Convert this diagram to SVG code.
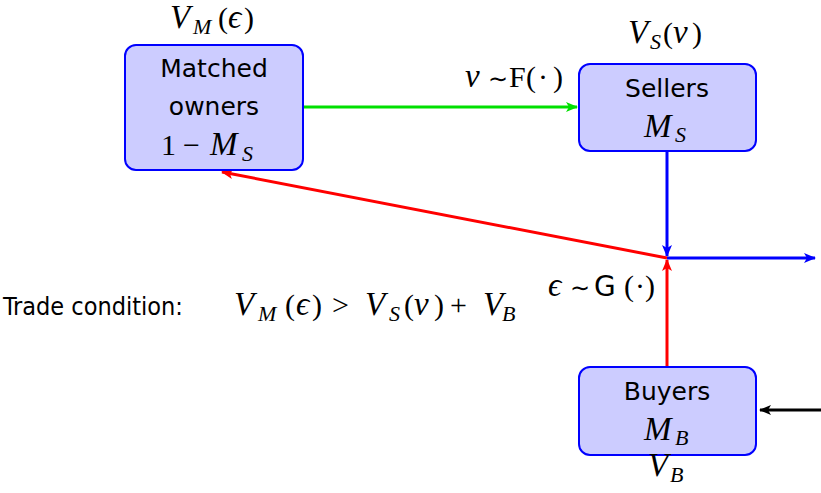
<svg xmlns="http://www.w3.org/2000/svg" width="821" height="493" viewBox="0 0 821 493">
<style>
.box{fill:#ccccff;stroke:#0000ff;stroke-width:2}
.t{font-family:"DejaVu Sans",sans-serif;font-size:25px;fill:#000}
.tc{font-family:"DejaVu Sans Condensed","DejaVu Sans",sans-serif;font-stretch:condensed;font-size:25px;fill:#000}
.m{font-family:"Liberation Serif",serif;font-style:italic;font-size:33px;fill:#000}
.r{font-family:"Liberation Serif",serif;font-size:30px;fill:#000}
.w{font-family:"DejaVu Sans",sans-serif;font-size:24px;fill:#000}
.g{font-family:"DejaVu Sans",sans-serif;font-size:28px;fill:#000}
.s{font-family:"Liberation Serif",serif;font-style:italic;font-size:22px;fill:#000}
.c{fill:none;stroke-width:3}
</style>
<defs>
<marker id="ab" viewBox="0 0 12 10" refX="11" refY="5" markerWidth="12" markerHeight="10" markerUnits="userSpaceOnUse" orient="auto"><path d="M0,0 L12,5 L0,10 L3,5 Z" fill="#0000ff"/></marker>
<marker id="ar" viewBox="0 0 12 10" refX="11" refY="5" markerWidth="12" markerHeight="10" markerUnits="userSpaceOnUse" orient="auto"><path d="M0,0 L12,5 L0,10 L3,5 Z" fill="#ff0000"/></marker>
<marker id="ag" viewBox="0 0 12 10" refX="11" refY="5" markerWidth="12" markerHeight="10" markerUnits="userSpaceOnUse" orient="auto"><path d="M0,0 L12,5 L0,10 L3,5 Z" fill="#00e000"/></marker>
<marker id="ak" viewBox="0 0 12 10" refX="11" refY="5" markerWidth="12" markerHeight="10" markerUnits="userSpaceOnUse" orient="auto"><path d="M0,0 L12,5 L0,10 L3,5 Z" fill="#000"/></marker>
</defs>
<g id="connectors">
<line class="c" x1="303" y1="107" x2="577" y2="107" stroke="#00e000" marker-end="url(#ag)"/>
<line class="c" x1="667" y1="151" x2="667" y2="256" stroke="#0000ff" marker-end="url(#ab)"/>
<line class="c" x1="667" y1="258" x2="815" y2="258" stroke="#0000ff" marker-end="url(#ab)"/>
<line class="c" x1="667" y1="367" x2="667" y2="260" stroke="#ff0000" marker-end="url(#ar)"/>
<line class="c" x1="667" y1="258" x2="222" y2="172" stroke="#ff0000" marker-end="url(#ar)"/>
<line class="c" x1="821" y1="410" x2="760" y2="410" stroke="#000" marker-end="url(#ak)"/>
<g id="label-F">
<text class="m" x="465" y="87">ν</text>
<text class="w" x="488" y="87">∼</text>
<text class="r" x="509" y="87">F</text>
<text class="r" x="526" y="87">(</text>
<text class="r" x="538" y="87">·</text>
<text class="r" x="553" y="87">)</text>
</g>
<g id="label-G">
<text class="m" x="548" y="296">ϵ</text>
<text class="w" x="570" y="296">∼</text>
<text class="g" x="594" y="296">G</text>
<text class="r" x="624" y="296">(</text>
<text class="r" x="635" y="296">·</text>
<text class="r" x="645" y="296">)</text>
</g>
</g>
<g id="matched">
<rect class="box" x="125" y="45" width="178" height="125" rx="11"/>
<text class="t" x="214" y="77" text-anchor="middle">Matched</text>
<text class="t" x="214" y="115" text-anchor="middle">owners</text>
<text class="r" x="161" y="155">1</text>
<text class="r" x="183" y="155">−</text>
<text class="m" x="210" y="155">M</text>
<text class="s" x="242" y="161">S</text>
<text class="m" x="170" y="28">V</text>
<text class="s" x="193" y="34">M</text>
<text class="r" x="218" y="28">(</text>
<text class="m" x="228" y="28">ϵ</text>
<text class="r" x="244" y="28">)</text>
</g>
<g id="sellers">
<rect class="box" x="579" y="64" width="177" height="87" rx="11"/>
<text class="t" x="667" y="97" text-anchor="middle">Sellers</text>
<text class="m" x="644" y="137">M</text>
<text class="s" x="675" y="142">S</text>
<text class="m" x="628" y="43">V</text>
<text class="s" x="650" y="49">S</text>
<text class="r" x="663" y="43">(</text>
<text class="m" x="673" y="43">ν</text>
<text class="r" x="692" y="43">)</text>
</g>
<g id="buyers">
<rect class="box" x="579" y="367" width="177" height="88" rx="11"/>
<text class="t" x="667" y="400" text-anchor="middle">Buyers</text>
<text class="m" x="644" y="440">M</text>
<text class="s" x="675" y="445">B</text>
<text class="m" x="648" y="476">V</text>
<text class="s" x="670" y="482">B</text>
</g>
<g id="condition">
<text class="tc" x="3" y="315">Trade condition:</text>
<text class="m" x="234" y="315">V</text>
<text class="s" x="258" y="321">M</text>
<text class="r" x="285" y="315">(</text>
<text class="m" x="296" y="315">ϵ</text>
<text class="r" x="312" y="315">)</text>
<text class="r" x="332" y="315">&gt;</text>
<text class="m" x="365" y="315">V</text>
<text class="s" x="389" y="321">S</text>
<text class="r" x="404" y="315">(</text>
<text class="m" x="414" y="315">ν</text>
<text class="r" x="434" y="315">)</text>
<text class="r" x="450" y="315">+</text>
<text class="m" x="483" y="315">V</text>
<text class="s" x="502" y="321">B</text>
</g>
</svg>
